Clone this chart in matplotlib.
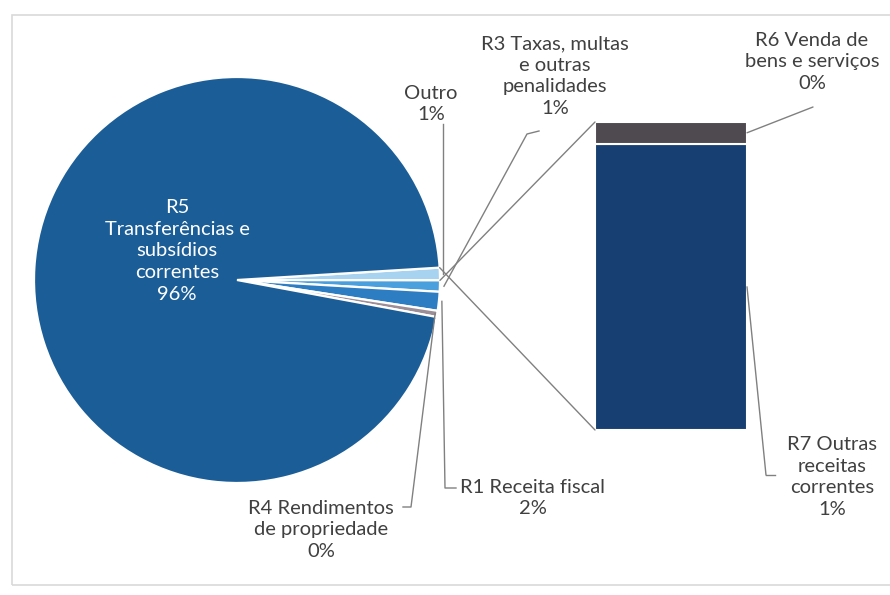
import numpy as np
import matplotlib
matplotlib.use("Agg")
import matplotlib.pyplot as plt
from matplotlib.patches import ConnectionPatch, Rectangle

plt.rcParams['font.family'] = ['Lato', 'DejaVu Sans']

# ---- data (percent of total revenue) ----
pie_labels = ["Outro", "R3 Taxas, multas\ne outras\npenalidades",
              "R1 Receita fiscal", "R4 Rendimentos\nde propriedade",
              "R5\nTransferências e\nsubsídios\ncorrentes"]
bar_labels = ["R7 Outras\nreceitas\ncorrentes", "R6 Venda de\nbens e serviços"]
bar_values = [0.93, 0.07]           # R7, R6 (together = "Outro")
pie_values = [sum(bar_values), 0.9, 1.5, 0.49, 96.11]
pie_colors = ["#A8D3F0", "#4A9FDD", "#2C7DC2", "#9C8E97", "#1B5D97"]
bar_colors = ["#183F72", "#4E4A50"]

total = sum(pie_values)
def pct(v):
    return f"{round(v / total * 100):.0f}%"

W, H = 890, 595
fig = plt.figure(figsize=(W / 100, H / 100), dpi=100)
ax = fig.add_axes([0, 0, 1, 1])
Y = lambda y: H - y

cx, cy, R = 237, Y(280), 203
start = 3.5
wedges, _ = ax.pie(pie_values, colors=pie_colors, startangle=start, counterclock=False,
                   center=(cx, cy), radius=R,
                   wedgeprops=dict(edgecolor="white", linewidth=1.6))
ax.set_xlim(0, W)
ax.set_ylim(0, H)
ax.set_aspect("equal")
ax.axis("off")

# chart border
ax.add_patch(Rectangle((12, Y(585)), 900, 570, fill=False, edgecolor="#D9D9D9", lw=1.2))

def edge_pt(w, frac=0.5, rr=1.0):
    ang = np.deg2rad(w.theta1 + (w.theta2 - w.theta1) * frac)
    return cx + R * rr * np.cos(ang), cy + R * rr * np.sin(ang)

# secondary bar
bx = fig.add_axes([595 / W, (H - 430) / H, 152 / W, 308 / H])
bottom = 0
for v, c in zip(bar_values, bar_colors):
    bx.bar(0, v, bottom=bottom, width=1.0, color=c, edgecolor="white", linewidth=1.5)
    bottom += v
bx.set_xlim(-0.5, 0.5)
bx.set_ylim(0, sum(bar_values))
bx.axis("off")

lc = "#808080"
# series lines from "Outro" wedge to the bar
wo = wedges[0]
p_top = edge_pt(wo, 0.0)
p_bot = edge_pt(wo, 1.0)
for (bxy, pxy) in [((-0.5, sum(bar_values)), p_top), ((-0.5, 0), p_bot)]:
    fig.add_artist(ConnectionPatch(xyA=bxy, coordsA=bx.transData, xyB=pxy, coordsB=ax.transData,
                                   color=lc, lw=1.0))

FS = 14.5
LS = 1.33
tk = dict(fontsize=FS, color="#404040", ha="center", va="center", linespacing=LS)

# R5 label inside pie
ax.text(177, Y(251), pie_labels[4] + "\n" + pct(pie_values[4]), fontsize=FS, color="white",
        ha="center", va="center", linespacing=LS)

# Outro
ax.text(431, Y(104), pie_labels[0] + "\n" + pct(pie_values[0]), **tk)
p = edge_pt(wedges[0], 0.5, 1.01)
ax.plot([443, 443], [Y(124), p[1]], color=lc, lw=1.0)

# R3
ax.text(555, Y(76), pie_labels[1] + "\n" + pct(pie_values[1]), **tk)
p = edge_pt(wedges[1], 0.5, 1.02)
ax.plot([539, 527, p[0]], [Y(131), Y(134), p[1]], color=lc, lw=1.0)

# R1
ax.text(533, Y(498), pie_labels[2] + "\n" + pct(pie_values[2]), **tk)
p = edge_pt(wedges[2], 0.5, 1.0)
ax.plot([456, 445, p[0] + 3], [Y(488), Y(488), p[1]], color=lc, lw=1.0)

# R4
ax.text(321, Y(530), pie_labels[3] + "\n" + pct(pie_values[3]), **tk)
p = edge_pt(wedges[3], 0.5, 0.99)
ax.plot([403, 411, p[0]], [Y(507), Y(507), p[1]], color=lc, lw=1.0)

# R6
ax.text(812, Y(62), bar_labels[1] + "\n" + pct(bar_values[1]), **tk)
fig.add_artist(ConnectionPatch(xyA=(0.5, bar_values[0] + bar_values[1] / 2), coordsA=bx.transData,
                               xyB=(813, Y(107)), coordsB=ax.transData, color=lc, lw=1.0))

# R7
ax.text(832, Y(477), bar_labels[0] + "\n" + pct(bar_values[0]), **tk)
fig.add_artist(ConnectionPatch(xyA=(0.5, bar_values[0] / 2), coordsA=bx.transData,
                               xyB=(766, Y(475)), coordsB=ax.transData, color=lc, lw=1.0))
ax.plot([766, 775], [Y(475), Y(475)], color=lc, lw=1.0)

fig.savefig("out.png", dpi=100)
